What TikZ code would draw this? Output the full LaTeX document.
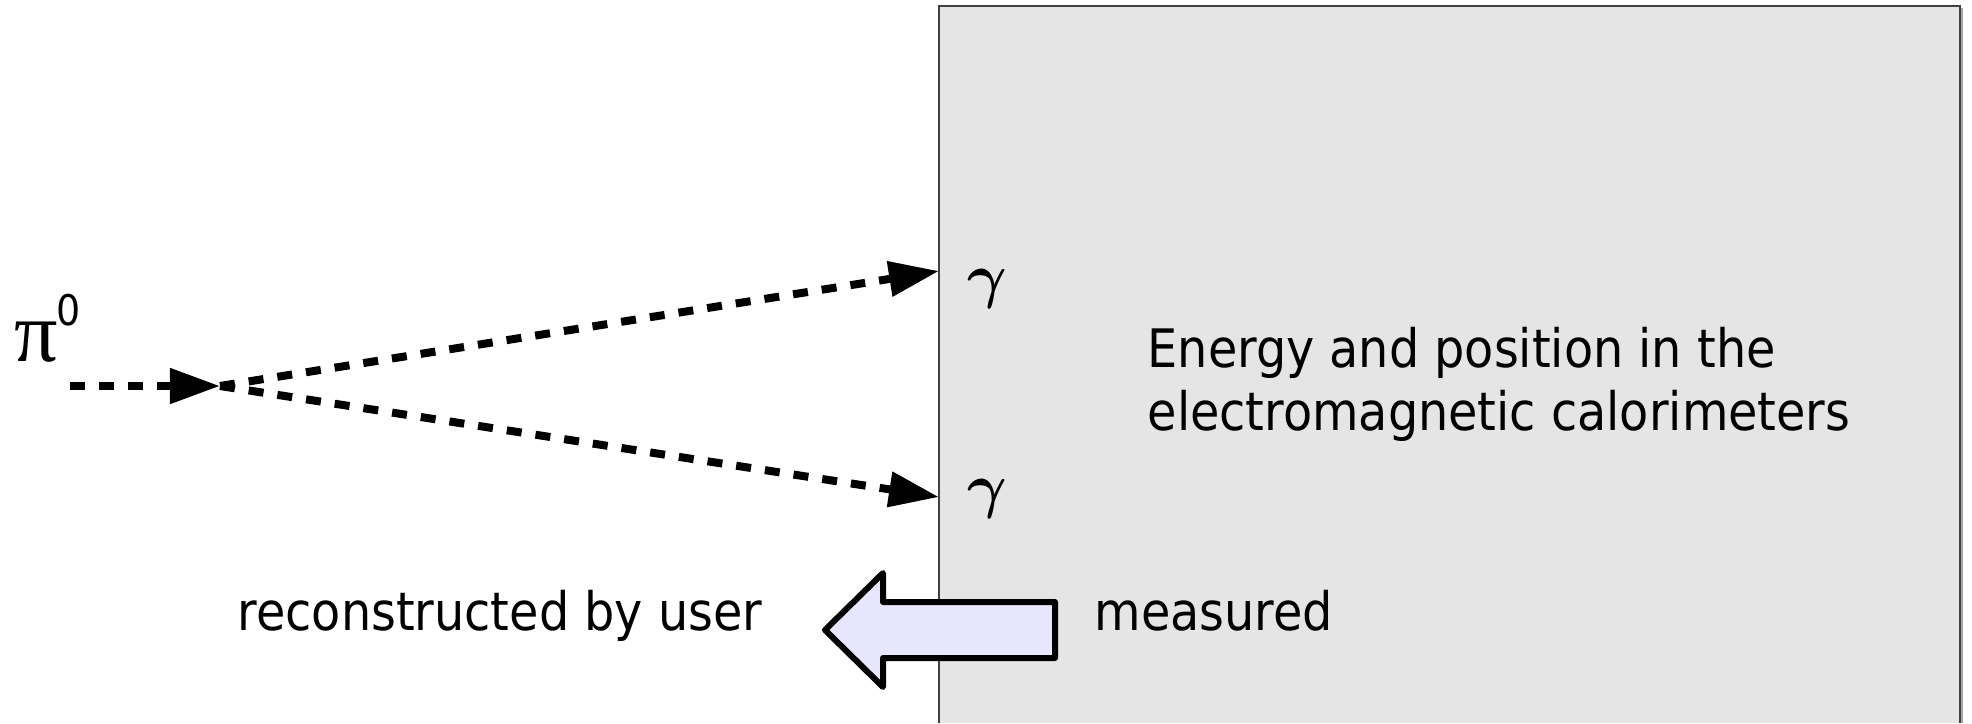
\documentclass[tikz,border=0pt]{standalone}
\usepackage{fontspec}
\setmainfont{DejaVu Sans Condensed}
\newfontfamily\greekfont{Liberation Serif}
\usetikzlibrary{arrows.meta}
\definecolor{calogray}{HTML}{E5E5E5}
\definecolor{arrowfill}{HTML}{E6E6FF}
\tikzset{
  photon/.style={line width=0.08cm, dash pattern=on 1.5mm off 1.4mm,
    -{Triangle[length=5mm,width=3.4mm]}},
  labeltext/.style={inner sep=0pt, font=\fontsize{15.08pt}{17.64pt}\selectfont},
  particle/.style={inner sep=0pt, font=\fontsize{17pt}{20pt}\selectfont\boldmath},
}
\begin{document}
\begin{tikzpicture}[x=0.01cm, y=-0.01cm]
\useasboundingbox (0,0) rectangle (1972,723);
% calorimeter block (open at the bottom)
\fill[calogray] (939,6) rectangle (1960,723);
\draw[black!75, line width=0.6pt] (939,723) -- (939,6) -- (1960,6) -- (1960,723);
\draw[black!35, line width=0.6pt] (1962,8) -- (1962,723);
% decay vertex and photon end points
\coordinate (pistart) at (70,386);
\coordinate (vertex) at (220,386);
\coordinate (hitone) at (939,271);
\coordinate (hittwo) at (939,497);
\draw[photon] (pistart) -- (vertex);
\draw[photon] (vertex) -- (hitone);
\draw[photon] (vertex) -- (hittwo);
% particle labels
\node[inner sep=0pt, anchor=base west] (pi) at (14,361)
  {\fontsize{24.5pt}{26pt}\greekfont π\kern-0.5pt\raisebox{10pt}{\fontsize{12pt}{13pt}\rmfamily 0}};
\node[particle, anchor=base] (gone) at (987,296) {$\gamma$};
\node[particle, anchor=base] (gtwo) at (987,506) {$\gamma$};
% description of the measurement
\node[labeltext, anchor=base west, align=left] (calo) at (1147,430)
  {Energy and position in the\\electromagnetic calorimeters};
% hand-over arrow
\draw[line width=0.06cm, line join=round, fill=arrowfill]
  (1055,602) -- (883,602) -- (883,573) -- (825,630) -- (883,687)
  -- (883,658) -- (1055,658) -- cycle;
\node[labeltext, anchor=base west] (meas) at (1094,630) {measured};
\node[labeltext, anchor=base west] (reco) at (237,630) {reconstructed by user};
\end{tikzpicture}
\end{document}
